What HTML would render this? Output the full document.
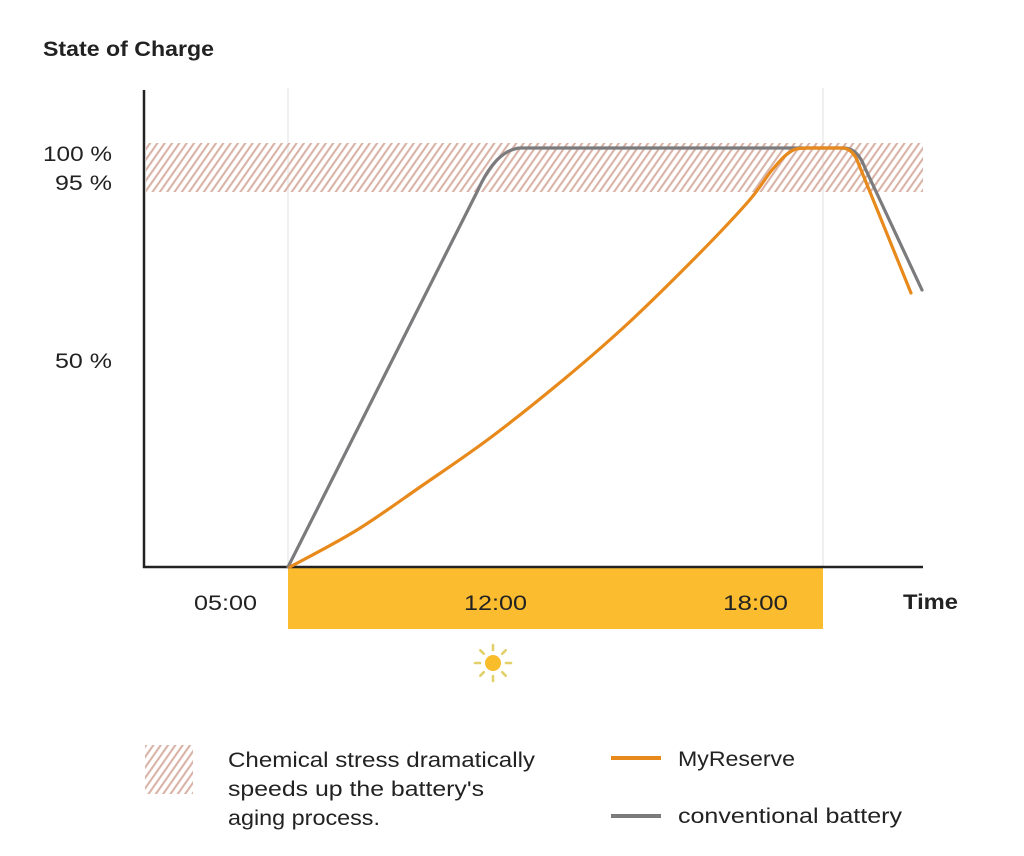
<!DOCTYPE html>
<html>
<head>
<meta charset="utf-8">
<style>
  html, body { margin: 0; padding: 0; background: #ffffff; }
  svg { display: block; }
  text { font-family: "Liberation Sans", "DejaVu Sans", sans-serif; fill: #222; }
</style>
</head>
<body>
<svg width="1024" height="856" viewBox="0 0 1024 856" xmlns="http://www.w3.org/2000/svg">
  <defs>
    <pattern id="hatch" patternUnits="userSpaceOnUse" width="6" height="6" patternTransform="rotate(35)">
      <rect x="0" y="0" width="2.1" height="6" fill="#d9b3a7"/>
    </pattern>
  </defs>
  <rect x="0" y="0" width="1024" height="856" fill="#ffffff"/>

  <!-- title -->
  <text x="43" y="56" font-size="21" font-weight="bold" textLength="171" lengthAdjust="spacingAndGlyphs">State of Charge</text>

  <!-- gridlines -->
  <line x1="288" y1="88" x2="288" y2="567" stroke="#ebebeb" stroke-width="1.5"/>
  <line x1="823" y1="88" x2="823" y2="567" stroke="#ebebeb" stroke-width="1.5"/>

  <!-- hatched stress band -->
  <rect x="146" y="143" width="777" height="49" fill="url(#hatch)"/>

  <!-- yellow daytime bar -->
  <rect x="288" y="568" width="535" height="61" fill="#fbbd2f"/>

  <!-- axes -->
  <line x1="144" y1="90" x2="144" y2="568" stroke="#222" stroke-width="2.5"/>
  <line x1="143" y1="567" x2="923" y2="567" stroke="#222" stroke-width="2.5"/>

  <!-- y labels -->
  <text x="43" y="161" font-size="21" textLength="69" lengthAdjust="spacingAndGlyphs">100 %</text>
  <text x="55" y="190" font-size="21" textLength="57" lengthAdjust="spacingAndGlyphs">95 %</text>
  <text x="55" y="368" font-size="21" textLength="57" lengthAdjust="spacingAndGlyphs">50 %</text>

  <!-- x labels -->
  <text x="194" y="610" font-size="21" textLength="63" lengthAdjust="spacingAndGlyphs">05:00</text>
  <text x="464" y="610" font-size="21" textLength="63" lengthAdjust="spacingAndGlyphs">12:00</text>
  <text x="723" y="610" font-size="21" textLength="65" lengthAdjust="spacingAndGlyphs">18:00</text>
  <text x="903" y="609" font-size="21" font-weight="bold" textLength="55" lengthAdjust="spacingAndGlyphs">Time</text>

  <!-- conventional battery (gray) -->
  <path d="M288,567 L478,190 Q496,150 520,148 L845,148 Q858,149 865,168 L922,290"
        fill="none" stroke="#7b7b7d" stroke-width="3.2" stroke-linejoin="round" stroke-linecap="round"/>

  <!-- MyReserve (orange) -->
  <path d="M290,567 C301.2,560.8 334.8,543.7 357,530 C379.2,516.3 400.8,500.3 423,485 C445.2,469.7 467.7,454.7 490,438 C512.3,421.3 534.8,403.3 557,385 C579.2,366.7 600.8,348.3 623,328 C645.2,307.7 669.3,283.8 690,263 C710.7,242.2 733.3,218.5 747,203 C760.7,187.5 764.8,178.5 772,170 C779.2,161.5 784.3,155.7 790,152 C795.7,148.3 797.2,148.7 806,148 L843,148 Q852,149 857,160 L911,293"
        fill="none" stroke="#e8891b" stroke-width="3.2" stroke-linejoin="round" stroke-linecap="round"/>

  <!-- sun -->
  <g transform="translate(493,663)">
    <circle cx="0" cy="0" r="8" fill="#f9bd2c"/>
    <g stroke="#e2d06a" stroke-width="2.6" stroke-linecap="round">
      <line x1="0" y1="-13" x2="0" y2="-18"/>
      <line x1="0" y1="13" x2="0" y2="18"/>
      <line x1="-13" y1="0" x2="-18" y2="0"/>
      <line x1="13" y1="0" x2="18" y2="0"/>
      <line x1="9.2" y1="-9.2" x2="12.7" y2="-12.7"/>
      <line x1="-9.2" y1="-9.2" x2="-12.7" y2="-12.7"/>
      <line x1="9.2" y1="9.2" x2="12.7" y2="12.7"/>
      <line x1="-9.2" y1="9.2" x2="-12.7" y2="12.7"/>
    </g>
  </g>

  <!-- legend -->
  <rect x="145" y="745" width="48" height="49" fill="url(#hatch)"/>
  <text x="228" y="767" font-size="21" fill="#333" textLength="307" lengthAdjust="spacingAndGlyphs">Chemical stress dramatically</text>
  <text x="228" y="796" font-size="21" fill="#333" textLength="256" lengthAdjust="spacingAndGlyphs">speeds up the battery's</text>
  <text x="228" y="825" font-size="21" fill="#333" textLength="152" lengthAdjust="spacingAndGlyphs">aging process.</text>

  <line x1="611" y1="758" x2="661" y2="758" stroke="#e8891b" stroke-width="4"/>
  <line x1="611" y1="816" x2="661" y2="816" stroke="#7b7b7d" stroke-width="4"/>
  <text x="678" y="766" font-size="21" fill="#333" textLength="117" lengthAdjust="spacingAndGlyphs">MyReserve</text>
  <text x="678" y="823" font-size="21" fill="#333" textLength="224" lengthAdjust="spacingAndGlyphs">conventional battery</text>
</svg>
</body>
</html>
